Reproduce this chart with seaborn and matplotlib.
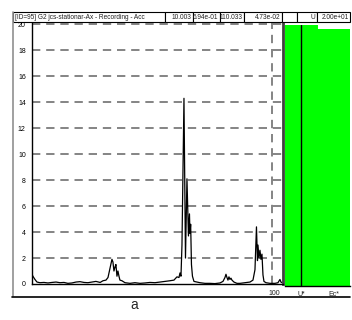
import seaborn as sns
import matplotlib.pyplot as plt
import numpy as np
import pandas as pd
from matplotlib.patches import Rectangle
from matplotlib.lines import Line2D
from matplotlib.ticker import FixedLocator, NullFormatter
from matplotlib import font_manager

# spectrum trace (frequency, amplitude)
freq = [4.54, 4.59, 4.71, 4.83, 5.01, 5.27, 5.54, 5.82, 6.12, 6.43, 6.76, 7.10,
        7.46, 7.85, 8.25, 8.67, 9.11, 9.57, 10.06, 10.6, 10.98, 11.40, 11.69,
        11.98, 12.28, 12.43, 12.59, 12.75, 12.90, 13.07, 13.23, 13.40, 13.56,
        13.91, 14.44, 15.37, 16.35, 17.40, 18.52, 19.71, 20.97, 22.32, 23.75,
        25.27, 26.57, 27.57, 28.28, 28.63, 28.99, 29.35, 30.09, 30.66, 31.23,
        31.82, 32.22, 32.42, 32.70, 33.03, 33.44, 34.07, 35.37, 36.72, 39.07,
        41.58, 44.25, 47.10, 48.89, 50.12, 50.75, 51.38, 52.02, 52.67, 53.33,
        54.00, 54.67, 56.05, 58.20, 60.41, 64.28, 68.41, 71.02, 72.81, 74.18,
        75.11, 75.58, 76.53, 77.48, 78.45, 79.43, 80.43, 81.43, 83.49, 87.77,
        93.39, 96.94, 99.38, 100.6, 101.9]
amp = [0.75, 0.6, 0.35, 0.15, 0.1, 0.12, 0.08, 0.12, 0.15, 0.1, 0.12, 0.05,
       0.08, 0.15, 0.18, 0.12, 0.1, 0.15, 0.2, 0.12, 0.25, 0.3, 0.5,
       1.2, 1.9, 1.7, 1.0, 1.3, 1.5, 0.6, 1.0, 0.6, 0.3,
       0.25, 0.1, 0.05, 0.1, 0.05, 0.08, 0.12, 0.1, 0.15, 0.2,
       0.25, 0.3, 0.55, 0.5, 0.85, 0.6, 3.0, 14.3, 2.0, 8.1,
       3.7, 5.4, 3.9, 4.6, 1.5, 0.6, 0.2, 0.15, 0.1, 0.05,
       0.05, 0.03, 0.08, 0.2, 0.5, 0.75, 0.5, 0.3, 0.55, 0.35,
       0.45, 0.3, 0.15, 0.05, 0.05, 0.1, 0.15, 0.3, 1.1, 4.4,
       1.8, 3.0, 2.0, 2.6, 1.9, 2.3, 0.7, 0.2, 0.1, 0.05,
       0.05, 0.1, 0.35, 0.15, 0.1]

y_ticks = [0, 2, 4, 6, 8, 10, 12, 14, 16, 18, 20]
x_minor = [10, 20, 30, 40, 50, 60, 70, 80, 90]
cursor_x = 90

bar_labels = ['U*', 'Ec*']
bar_values = [20.0, 19.7]

header = ['[ID=95] G2 jcs-stationar-Ax - Recording - Acc', '10.003', '6.94e-01',
          '110.033', '4.73e-02', '', 'U', '2.00e+01']

W, H = 352, 320

def fx(px):
    return px / W

def fy(py):
    return 1 - py / H

# pick a narrow face if one is there, else plain Liberation Sans
names = {f.name for f in font_manager.fontManager.ttflist}
narrow = [n for n in ['Liberation Sans Narrow', 'DejaVu Sans Condensed'] if n in names]
head_size = 5.5 if narrow else 4.7
tick_size = 5.5 if narrow else 5.0

sns.set_theme(style='white')
plt.rcParams['font.family'] = narrow + ['Liberation Sans', 'DejaVu Sans']

fig = plt.figure(figsize=(W / 100, H / 100), dpi=100)

# main spectrum axes
ax = fig.add_axes([fx(32), fy(284), fx(283) - fx(32), fy(23) - fy(284)])
df = pd.DataFrame({'freq': freq, 'amp': amp})
sns.lineplot(data=df, x='freq', y='amp', color='black', lw=0.9, estimator=None, ax=ax)
ax.set_xscale('log')
ax.set_xlim(4.54, 103.2)
ax.set_ylim(0, 20.1)
ax.set_yticks(y_ticks)
ax.set_yticklabels([str(v) for v in y_ticks], fontsize=tick_size, color='#202020')
ax.set_xticks([100])
ax.set_xticklabels(['100'], fontsize=tick_size, ha='right', color='#202020')
ax.xaxis.set_minor_locator(FixedLocator(x_minor))
ax.xaxis.set_minor_formatter(NullFormatter())
ax.tick_params(axis='y', direction='out', length=3, width=0.8, pad=1.5, colors='black')
ax.tick_params(axis='x', which='both', direction='out', length=2.5, width=0.6, pad=1.5)
ax.set_xlabel('')
ax.set_ylabel('')
for v in y_ticks[1:]:
    ax.axhline(v, color='#707070', lw=1.2, ls=(0, (5, 3.5)), zorder=0)
ax.axvline(cursor_x, color='#707070', lw=1.2, ls=(0, (5, 3.5)), zorder=0)
ax.spines['top'].set_visible(False)
ax.spines['left'].set_color('black')
ax.spines['left'].set_linewidth(1)
ax.spines['bottom'].set_color('black')
ax.spines['bottom'].set_linewidth(1)
ax.spines['right'].set_color('#404040')
ax.spines['right'].set_linewidth(2)

# side panel with the two bars
ax2 = fig.add_axes([fx(285), fy(286), fx(350) - fx(285), fy(25) - fy(286)])
sns.barplot(x=bar_labels, y=bar_values, color='#00ff00', saturation=1, width=1,
            linewidth=0, ax=ax2)
ax2.set_ylim(0, 20)
ax2.axvline(0, color='black', lw=1)
ax2.set_yticks([])
ax2.tick_params(axis='x', direction='out', length=2, width=0.6, pad=1.5,
                labelsize=tick_size, labelcolor='#202020')
for s in ['top', 'left', 'right']:
    ax2.spines[s].set_visible(False)
ax2.spines['bottom'].set_color('black')
ax2.spines['bottom'].set_linewidth(1)

# header boxes
edges = [13, 165, 193, 220, 244, 282, 297, 317, 350]
for i, txt in enumerate(header):
    x0, x1 = edges[i], edges[i + 1]
    fig.add_artist(Rectangle((fx(x0), fy(22)), fx(x1) - fx(x0), fy(12) - fy(22),
                             transform=fig.transFigure, facecolor='white',
                             edgecolor='black', lw=0.8))
    if i == 0:
        fig.text(fx(x0 + 2), fy(17.3), txt, fontsize=head_size, ha='left', va='center',
                 color='#202020')
    elif txt:
        fig.text(fx(x1 - 1.5), fy(17.3), txt, fontsize=head_size, ha='right', va='center',
                 color='#202020')

# outer frame
fig.add_artist(Line2D([fx(12.5), fx(12.5)], [fy(12), fy(296)], transform=fig.transFigure,
                      color='#909090', lw=1.2))
fig.add_artist(Line2D([fx(12), fx(350)], [fy(296.5), fy(296.5)], transform=fig.transFigure,
                      color='black', lw=1.2))

fig.text(fx(134), fy(305), 'a', fontsize=10, ha='center', va='center',
         family=['Liberation Sans', 'DejaVu Sans'])

fig.savefig('out.png', dpi=100, facecolor='white')
